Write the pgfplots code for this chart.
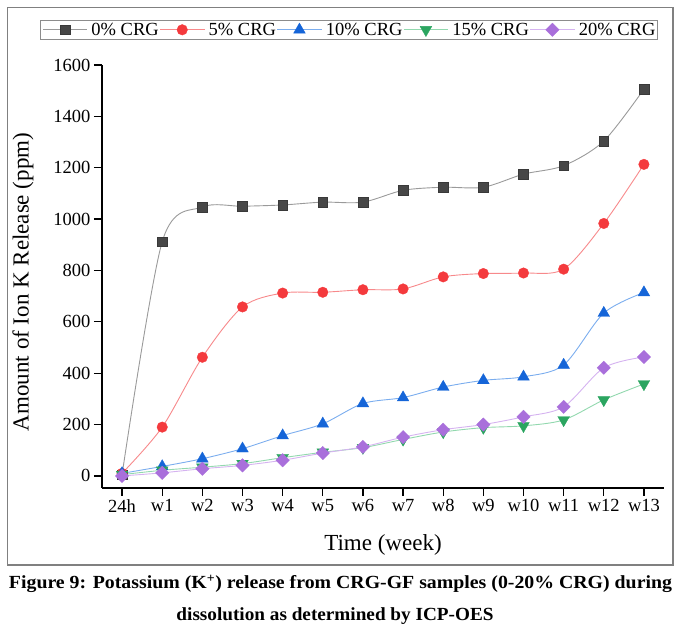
\documentclass[border=0pt]{standalone}
\usepackage{pgfplots}
\pgfplotsset{compat=1.18}
\usepackage{fontspec}
\setmainfont{Liberation Serif}
\usepackage{graphicx}
\definecolor{k0}{HTML}{474747}
\definecolor{k0l}{HTML}{9A9A9A}
\definecolor{r5}{HTML}{F43A3D}
\definecolor{r5l}{HTML}{F7898B}
\definecolor{b10}{HTML}{1565D8}
\definecolor{b10l}{HTML}{7BADEE}
\definecolor{g15}{HTML}{2BA560}
\definecolor{g15l}{HTML}{92D8AE}
\definecolor{p20}{HTML}{A96FDB}
\definecolor{p20l}{HTML}{D5B3F0}
\begin{document}
\begin{tikzpicture}[x=1pt,y=1pt]
\path[use as bounding box] (0,0) rectangle (681,631);
\draw[color=black!50, line width=1.3pt] (7.3,66) rectangle (673,623.7);
\begin{axis}[
  at={(102pt,143pt)}, anchor=south west,
  scale only axis, width=562pt, height=423pt,
  xmin=-0.5, xmax=13.5, ymin=-47, ymax=1600,
  axis x line=bottom, axis y line=left,
  axis line style={-, line width=1.3pt, black},
  tick style={line width=1.3pt, black},
  major tick length=8pt, tick align=outside,
  xtick={0,...,13},
  xticklabels={24h,w1,w2,w3,w4,w5,w6,w7,w8,w9,w10,w11,w12,w13},
  ytick={0,200,...,1600},
  /pgf/number format/assume math mode=true,
  /pgf/number format/1000 sep={},
  ticklabel style={font=\fontsize{18.5}{20}\selectfont},
  label style={font=\fontsize{23}{26}\selectfont},
  xlabel={Time (week)},
  ylabel={Amount of Ion K Release (ppm)},
  xlabel style={at={(axis description cs:0.5,-0.135)}, anchor=center},
  ylabel style={at={(axis description cs:-0.1406,0.487)}, anchor=center},
  clip=false,
  legend columns=5,
  legend style={at={(axis description cs:0.4395,1.0832)}, anchor=center,
    draw=black!45, line width=0.8pt, inner xsep=2pt, inner ysep=1pt,
    font=\fontsize{18.5}{20}\selectfont,
    nodes={inner xsep=0pt, inner ysep=1.5pt},
    /tikz/every odd column/.style={column sep=4pt},
    /tikz/every even column/.style={column sep=1pt}},
  legend image code/.code={\draw[mark repeat=2,mark phase=2] plot coordinates {(0pt,0pt) (22pt,0pt) (44pt,0pt)};},
  every axis plot/.append style={line width=0.9pt, smooth, tension=0.5},
]
\addplot[color=k0l, mark=square*, mark size=4.9pt, mark options={fill=k0, draw=k0!80!black, line width=0.4pt}]
 coordinates {(0,5) (1,912) (2,1047) (3,1050) (4,1055) (5,1066) (6,1066) (7,1112) (8,1124) (9,1124) (10,1175) (11,1208) (12,1304) (13,1506)};
\addlegendentry{0\% CRG}
\addplot[color=r5l, mark=*, mark size=5.3pt, mark options={fill=r5, draw=r5, line width=0.3pt}]
 coordinates {(0,10) (1,190) (2,462) (3,658) (4,712) (5,715) (6,725) (7,728) (8,775) (9,788) (10,790) (11,805) (12,983) (13,1213)};
\addlegendentry{5\% CRG}
\addplot[color=b10l, mark=triangle*, mark size=6.8pt, mark options={fill=b10, draw=b10, line width=0.3pt}]
 coordinates {(0,10) (1,37) (2,67) (3,106) (4,157) (5,203) (6,282) (7,305) (8,346) (9,372) (10,386) (11,432) (12,634) (13,714)};
\addlegendentry{10\% CRG}
\addplot[color=g15l, mark=triangle*, mark size=6.8pt, mark options={fill=g15, draw=g15, line width=0.3pt, rotate=180}]
 coordinates {(0,5) (1,22) (2,34) (3,48) (4,71) (5,92) (6,110) (7,142) (8,171) (9,188) (10,195) (11,218) (12,296) (13,358)};
\addlegendentry{15\% CRG}
\addplot[color=p20l, mark=square*, mark size=4.74pt, mark options={fill=p20, draw=p20, line width=0.3pt, rotate=45}]
 coordinates {(0,0) (1,12) (2,28) (3,41) (4,61) (5,89) (6,113) (7,151) (8,180) (9,200) (10,230) (11,269) (12,421) (13,463)};
\addlegendentry{20\% CRG}
\end{axis}
\node[anchor=base, inner sep=0pt] at (340.5,42) {\resizebox{663pt}{\height}{\fontsize{18.5}{20}\selectfont\bfseries Figure 9: Potassium (K\textsuperscript{+}) release from CRG-GF samples (0-20\% CRG) during}};
\node[anchor=base, inner sep=0pt] at (335,10) {\resizebox{317pt}{\height}{\fontsize{18.5}{20}\selectfont\bfseries dissolution as determined by ICP-OES}};
\end{tikzpicture}
\end{document}
